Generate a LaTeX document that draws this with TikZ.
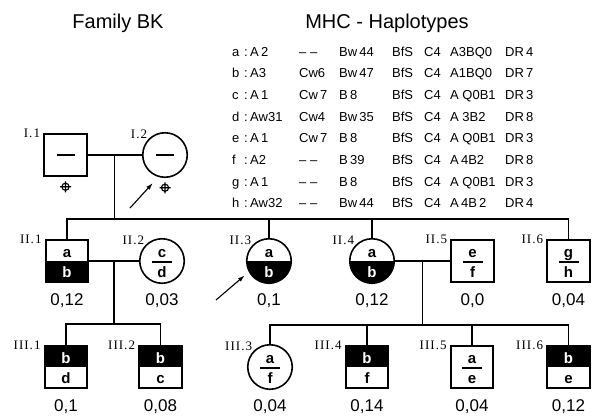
\documentclass[tikz,border=0pt]{standalone}
\usepackage{fontspec}
\usepackage{xcolor}
\usepackage{tikz}
\usetikzlibrary{positioning,arrows.meta,calc}
\newfontfamily\sansfam{Liberation Sans}
\newfontfamily\genfam[LetterSpace=8]{Liberation Serif}

\begin{document}
\begin{tikzpicture}[x=1pt, y=1pt,
    sq/.style={draw, line width=1.6pt, minimum size=42.5pt, inner sep=0pt, outer sep=0pt},
    ci/.style={draw, circle, line width=1.6pt, minimum size=44.5pt, inner sep=0pt, outer sep=0pt},
    link/.style={line width=1.1pt},
    frac/.style={line width=1.3pt},
    pointer/.style={line width=1.1pt, -{Latex[length=7pt, width=4.5pt]}},
    gen/.style={font=\genfam\fontsize{13}{13}\selectfont, anchor=base east, inner sep=0pt},
    val/.style={font=\sansfam\fontsize{17}{17}\selectfont, anchor=base, inner sep=0pt},
    hap/.style={font=\sansfam\bfseries\fontsize{15}{15}\selectfont, anchor=base, inner sep=0pt},
    tab/.style={font=\sansfam\fontsize{13}{13}\selectfont, anchor=base west, inner sep=0pt},
    title/.style={font=\sansfam\fontsize{20}{20}\selectfont, anchor=base, inner sep=0pt}]

    \useasboundingbox (0,0) rectangle (597,-418);

    % titles
    \node[title] (fam) at (118,-28) {Family BK};
    \node[title] (mhc) at (387,-28) {MHC - Haplotypes};

    % haplotype table
    \foreach \k/\a/\c/\b/\g/\r [count=\i] in {
        a/A\,2/– –/Bw\,44/A3BQ0/DR\,4,
        b/A3/Cw6/Bw\,47/A1BQ0/DR\,7,
        c/A\,1/Cw\,7/B\,8/A Q0B1/DR\,3,
        d/Aw31/Cw4/Bw\,35/A 3B2/DR\,8,
        e/A\,1/Cw\,7/B\,8/A Q0B1/DR\,3,
        f/A2/– –/B\,39/A\,4B2/DR\,8,
        g/A\,1/– –/B\,8/A Q0B1/DR\,3,
        h/Aw32/– –/Bw\,44/A\,4B\,2/DR\,4}
    {
        \pgfmathsetmacro{\y}{-56-21.7*(\i-1)}
        \node[tab] (k\i) at (232,\y) {\k};
        \node[tab] (s\i) at (244,\y) {:};
        \node[tab] (a\i) at (250,\y) {\a};
        \node[tab] (c\i) at (299,\y) {\c};
        \node[tab] (b\i) at (339,\y) {\b};
        \node[tab] (bf\i) at (392,\y) {BfS};
        \node[tab] (cf\i) at (424,\y) {C4};
        \node[tab] (g\i) at (450,\y) {\g};
        \node[tab] (r\i) at (505,\y) {\r};
    }

    % generation I
    \node[sq] (I1) at (65.5,-155) {};
    \node[ci] (I2) at (165,-155) {};
    % generation II
    \node[sq] (II1) at (67,-261) {};
    \node[ci] (II2) at (162,-261) {};
    \node[ci] (II3) at (269,-261) {};
    \node[ci] (II4) at (372,-261) {};
    \node[sq] (II5) at (472.5,-261) {};
    \node[sq] (II6) at (568.5,-261) {};
    % generation III
    \node[sq] (III1) at (66,-367) {};
    \node[sq] (III2) at (160.5,-367) {};
    \node[ci] (III3) at (270,-367) {};
    \node[sq] (III4) at (367,-367) {};
    \node[sq] (III5) at (472,-367) {};
    \node[sq] (III6) at (568.5,-367) {};

    % shaded halves
    \fill (II1.west) rectangle (II1.south east);
    \foreach \n in {III1,III2,III4,III6}
        \fill (\n.north west) rectangle (\n.east);
    \foreach \n in {II3,II4}
        \fill (\n.west) arc[start angle=180, end angle=360, radius=22.25pt] -- cycle;

    % marriages and sibships
    \coordinate (mI) at ($(I1.east)!0.5!(I2.west)$);
    \coordinate (mII) at ($(II1.east)!0.5!(II2.west)$);
    \coordinate (mIIb) at ($(II4.east)!0.5!(II5.west)$);
    \draw[link] (I1) -- (I2);
    \draw[link] (II1) -- (II2);
    \draw[link] (II4) -- (II5);
    \draw[link] (mI) -- ++(0,-64) coordinate (sI);
    \draw[link] (II1.north) |- (sI) -| (II6.north);
    \foreach \n in {II3,II4}
        \draw[link] (\n.north) -- (\n.north |- sI);
    \draw[link] (mII) -- ++(0,-63) coordinate (sII);
    \draw[link] (III1.north) |- (sII) -| (III2.north);
    \draw[link] (mIIb) -- ++(0,-64) coordinate (sIIb);
    \draw[link] (III3.north) |- (sIIb) -| (III6.north);
    \foreach \n in {III4,III5}
        \draw[link] (\n.north) -- (\n.north |- sIIb);

    % inner marks
    \foreach \n in {I1,I2}
        \draw[frac] ([xshift=-9pt]\n.center) -- ([xshift=9pt]\n.center);
    \foreach \n in {II2,II5,II6,III3,III5}
        \draw[frac] ([shift={(-10pt,-1pt)}]\n.center) -- ([shift={(10pt,-1pt)}]\n.center);

    % haplotype letters
    \foreach \n/\t in {II1/a,II2/c,II3/a,II4/a,II5/e,II6/g,III3/a,III5/a}
        \node[hap] (\n-up) at ([yshift=4pt]\n.center) {\t};
    \foreach \n/\t in {III1/b,III2/b,III4/b,III6/b}
        \node[hap, text=white] (\n-up) at ([yshift=4pt]\n.center) {\t};
    \foreach \n/\t in {II2/d,II5/f,II6/h,III1/d,III2/c,III3/f,III4/f,III5/e,III6/e}
        \node[hap] (\n-dn) at ([yshift=-16pt]\n.center) {\t};
    \foreach \n/\t in {II1/b,II3/b,II4/b}
        \node[hap, text=white] (\n-dn) at ([yshift=-16pt]\n.center) {\t};

    % deceased
    \foreach \n in {I1,I2}
        \draw[line width=1.1pt] ([yshift=-10.5pt]\n.south) circle (3.6pt)
            +(-5.5pt,0) -- +(5.5pt,0) +(0,-5.5pt) -- +(0,5.5pt);

    % probands
    \coordinate (pI2) at (130,-208);
    \coordinate (pII3) at (216,-300);
    \draw[pointer, shorten >=9pt] (pI2) -- (I2.-106);
    \draw[pointer, shorten >=6pt] (pII3) -- (II3.208);

    % individual labels
    \foreach \n/\t in {I1/I.1,II1/II.1,II5/II.5,II6/II.6,III1/III.1,III2/III.2,III4/III.4,III5/III.5,III6/III.6}
        \node[gen] (l\n) at ([shift={(-4pt,-4pt)}]\n.north west) {\t};
    \foreach \n/\t in {I2/I.2,II2/II.2,II3/II.3,II4/II.4,III3/III.3}
        \node[gen] (l\n) at ([shift={(-2pt,1pt)}]\n.north west) {\t};

    % values
    \foreach \n/\v in {II1/{0,12},II2/{0,03},II3/{0,1},II4/{0,12},II5/{0,0},II6/{0,04},
                       III1/{0,1},III2/{0,08},III3/{0,04},III4/{0,14},III5/{0,04},III6/{0,12}}
        \node[val] (v\n) at ([yshift=-44.5pt]\n.center) {\v};
\end{tikzpicture}
\end{document}
